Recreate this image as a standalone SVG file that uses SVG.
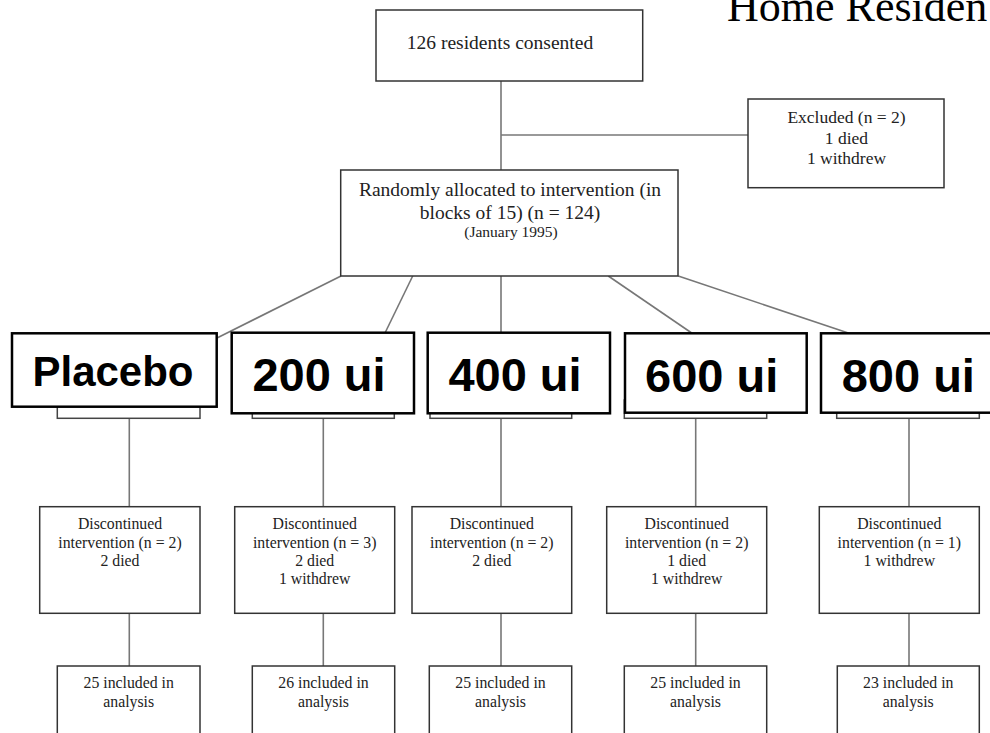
<svg xmlns="http://www.w3.org/2000/svg" width="990" height="733" viewBox="0 0 990 733">
<style>
  .bx{fill:#fff;stroke:#333;stroke-width:1.5}
  .ub{fill:#fff;stroke:#444;stroke-width:1.5}
  .lb{fill:#fff;stroke:#000;stroke-width:2.5}
  .ln{stroke:#777;stroke-width:1.6;fill:none}
  .t{font-family:"Liberation Serif","Times New Roman",serif;fill:#222;text-anchor:middle}
  .s20{font-size:19.5px}
  .s18{font-size:17.5px}
  .s16{font-size:15.8px}
  .s15{font-size:15.5px}
  .lab{font-family:"Liberation Sans",Arial,sans-serif;font-weight:bold;fill:#000;text-anchor:middle}
</style>
<rect width="990" height="733" fill="#fff"/>
<text x="727" y="21" font-family="'Liberation Serif','Times New Roman',serif" font-size="44" fill="#000">Home Residen</text>

<g id="connectors">
  <line class="ln" x1="501" y1="81" x2="501" y2="170"/>
  <line class="ln" x1="501" y1="135" x2="748" y2="135"/>
  <line class="ln" x1="341" y1="276" x2="217" y2="338"/>
  <line class="ln" x1="412.7" y1="276" x2="385" y2="333"/>
  <line class="ln" x1="501" y1="276" x2="501" y2="333"/>
  <line class="ln" x1="608.3" y1="276" x2="691.7" y2="333"/>
  <line class="ln" x1="678.3" y1="276" x2="848.3" y2="333"/>
  <line class="ln" x1="129.3" y1="418" x2="129.3" y2="506.7"/>
  <line class="ln" x1="323.3" y1="418" x2="323.3" y2="506.7"/>
  <line class="ln" x1="501" y1="418" x2="501" y2="506.7"/>
  <line class="ln" x1="695.7" y1="418" x2="695.7" y2="506.7"/>
  <line class="ln" x1="909" y1="418" x2="909" y2="506.7"/>
  <line class="ln" x1="129.3" y1="613.3" x2="129.3" y2="666"/>
  <line class="ln" x1="323.3" y1="613.3" x2="323.3" y2="666"/>
  <line class="ln" x1="501" y1="613.3" x2="501" y2="666"/>
  <line class="ln" x1="695.7" y1="613.3" x2="695.7" y2="666"/>
  <line class="ln" x1="909" y1="613.3" x2="909" y2="666"/>
</g>

<g id="consented">
  <rect class="bx" x="376" y="10" width="266.7" height="71"/>
  <text class="t s20" x="500" y="49">126 residents consented</text>
</g>

<g id="excluded">
  <rect class="bx" x="748" y="99" width="196" height="88.7"/>
  <text class="t s18" x="846.5" y="123.3">Excluded (n = 2)</text>
  <text class="t s18" x="846.5" y="144">1 died</text>
  <text class="t s18" x="846.5" y="164.3">1 withdrew</text>
</g>

<g id="randomised">
  <rect class="bx" x="340.7" y="170" width="337.3" height="106"/>
  <text class="t s20" x="510" y="195.7">Randomly allocated to intervention (in</text>
  <text class="t s20" x="510" y="219.3">blocks of 15) (n = 124)</text>
  <text class="t s15" x="511" y="237.3">(January 1995)</text>
</g>

<g id="placebo">
  <rect class="ub" x="57.3" y="395" width="142.7" height="23.3"/>
  <rect class="lb" x="12" y="333.3" width="204.7" height="73.4"/>
  <text class="lab" x="113" y="386" font-size="42">Placebo</text>
</g>
<g id="ui200">
  <rect class="ub" x="252.3" y="400" width="142" height="18.3"/>
  <rect class="lb" x="231.7" y="332.7" width="182.3" height="80.6"/>
  <text class="lab" x="319" y="390.7" font-size="47">200 ui</text>
</g>
<g id="ui400">
  <rect class="ub" x="430" y="400" width="141.7" height="18.3"/>
  <rect class="lb" x="427.7" y="332.7" width="182.3" height="80.6"/>
  <text class="lab" x="515" y="390.7" font-size="47">400 ui</text>
</g>
<g id="ui600">
  <rect class="ub" x="624.3" y="400" width="142.4" height="18.3"/>
  <rect class="lb" x="625" y="333.3" width="181.7" height="79.4"/>
  <text class="lab" x="711.7" y="391.7" font-size="47">600 ui</text>
</g>
<g id="ui800">
  <rect class="ub" x="836.7" y="400" width="142.6" height="18.3"/>
  <rect class="lb" x="821" y="333.3" width="182" height="79.4"/>
  <text class="lab" x="908.3" y="391.7" font-size="47">800 ui</text>
</g>

<g id="disc-placebo">
  <rect class="bx" x="39.7" y="506.7" width="160.3" height="106.6"/>
  <text class="t s16" x="120" y="529.3">Discontinued</text>
  <text class="t s16" x="120" y="547.7">intervention (n = 2)</text>
  <text class="t s16" x="120" y="566">2 died</text>
</g>
<g id="disc-200">
  <rect class="bx" x="234.7" y="506.7" width="160" height="106.6"/>
  <text class="t s16" x="314.7" y="529.3">Discontinued</text>
  <text class="t s16" x="314.7" y="547.7">intervention (n = 3)</text>
  <text class="t s16" x="314.7" y="566">2 died</text>
  <text class="t s16" x="314.7" y="584.3">1 withdrew</text>
</g>
<g id="disc-400">
  <rect class="bx" x="412" y="506.7" width="159.7" height="106.6"/>
  <text class="t s16" x="491.8" y="529.3">Discontinued</text>
  <text class="t s16" x="491.8" y="547.7">intervention (n = 2)</text>
  <text class="t s16" x="491.8" y="566">2 died</text>
</g>
<g id="disc-600">
  <rect class="bx" x="606.7" y="506.7" width="160" height="106.6"/>
  <text class="t s16" x="686.7" y="529.3">Discontinued</text>
  <text class="t s16" x="686.7" y="547.7">intervention (n = 2)</text>
  <text class="t s16" x="686.7" y="566">1 died</text>
  <text class="t s16" x="686.7" y="584.3">1 withdrew</text>
</g>
<g id="disc-800">
  <rect class="bx" x="819.3" y="506.7" width="160" height="106.6"/>
  <text class="t s16" x="899.3" y="529.3">Discontinued</text>
  <text class="t s16" x="899.3" y="547.7">intervention (n = 1)</text>
  <text class="t s16" x="899.3" y="566">1 withdrew</text>
</g>

<g id="incl-placebo">
  <rect class="bx" x="57.3" y="666" width="142.7" height="100"/>
  <text class="t s16" x="128.7" y="688.3">25 included in</text>
  <text class="t s16" x="128.7" y="706.7">analysis</text>
</g>
<g id="incl-200">
  <rect class="bx" x="252.3" y="666" width="142.4" height="100"/>
  <text class="t s16" x="323.5" y="688.3">26 included in</text>
  <text class="t s16" x="323.5" y="706.7">analysis</text>
</g>
<g id="incl-400">
  <rect class="bx" x="429.3" y="666" width="142.4" height="100"/>
  <text class="t s16" x="500.5" y="688.3">25 included in</text>
  <text class="t s16" x="500.5" y="706.7">analysis</text>
</g>
<g id="incl-600">
  <rect class="bx" x="624.3" y="666" width="142.4" height="100"/>
  <text class="t s16" x="695.5" y="688.3">25 included in</text>
  <text class="t s16" x="695.5" y="706.7">analysis</text>
</g>
<g id="incl-800">
  <rect class="bx" x="837.3" y="666" width="142" height="100"/>
  <text class="t s16" x="908.3" y="688.3">23 included in</text>
  <text class="t s16" x="908.3" y="706.7">analysis</text>
</g>
</svg>
